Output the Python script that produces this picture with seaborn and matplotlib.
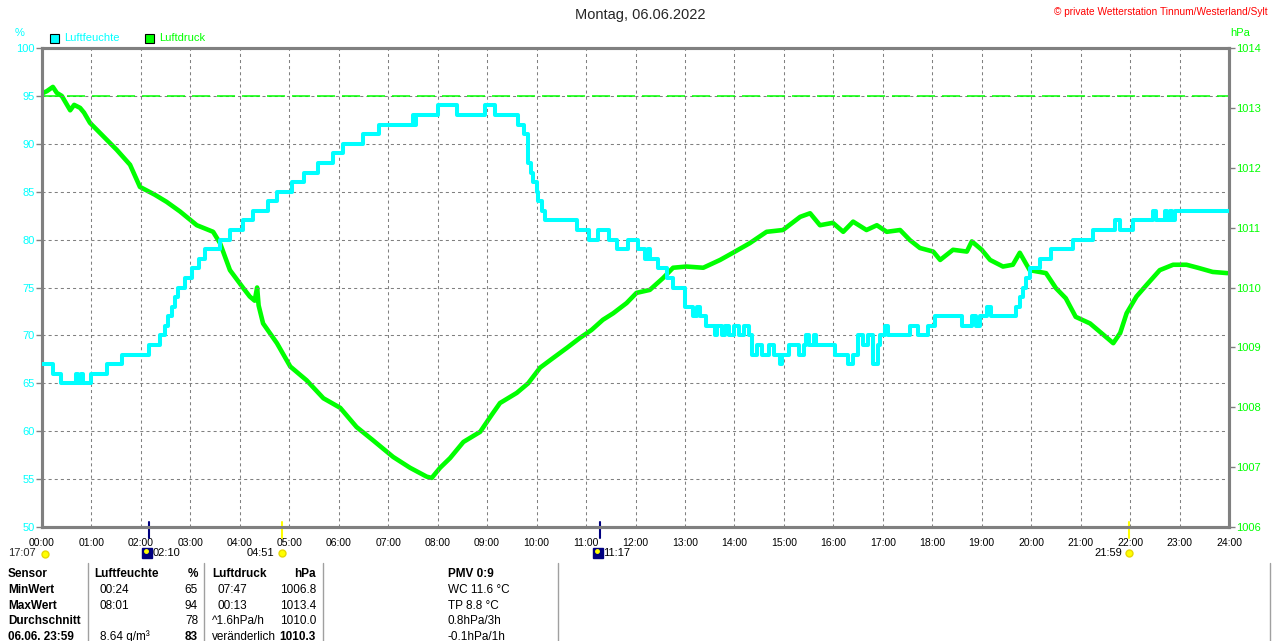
import numpy as np
import pandas as pd
import matplotlib
matplotlib.use("Agg")
import matplotlib.pyplot as plt
import seaborn as sns
from matplotlib.patches import Rectangle
from matplotlib.lines import Line2D

# humidity (%), step changes: hour of day -> value
hum_time = [0.0, 0.22, 0.38, 0.68, 0.72, 0.78, 0.82, 1.0, 1.31, 1.62, 2.17, 2.39, 2.49, 2.55,
            2.62, 2.69, 2.75, 2.89, 3.03, 3.17, 3.30, 3.60, 3.81, 4.07, 4.27, 4.57, 4.75, 5.05,
            5.30, 5.58, 5.88, 6.09, 6.50, 6.81, 7.50, 7.53, 7.57, 8.00, 8.40, 8.96, 9.16, 9.63,
            9.75, 9.83, 9.88, 9.93, 10.0, 10.03, 10.1, 10.17, 10.81, 11.05, 11.25, 11.47, 11.62,
            11.85, 12.05, 12.2, 12.25, 12.3, 12.46, 12.63, 12.76, 13.0, 13.17, 13.25, 13.3, 13.43,
            13.6, 13.65, 13.75, 13.8, 13.9, 14.0, 14.1, 14.2, 14.3, 14.35, 14.45, 14.55, 14.7,
            14.8, 14.92, 14.97, 15.1, 15.3, 15.4, 15.45, 15.5, 15.6, 15.65, 16.03, 16.3, 16.4,
            16.5, 16.6, 16.7, 16.8, 16.9, 16.95, 17.05, 17.1, 17.55, 17.72, 17.92, 18.05, 18.6,
            18.8, 18.88, 18.97, 19.1, 19.18, 19.7, 19.77, 19.83, 19.9, 19.97, 20.18, 20.41, 20.85,
            21.25, 21.7, 21.8, 22.06, 22.47, 22.52, 22.7, 22.75, 22.8, 22.85, 22.9, 24.0]
hum_value = [67, 66, 65, 66, 65, 66, 65, 66, 67, 68, 69, 70, 71, 72,
             73, 74, 75, 76, 77, 78, 79, 80, 81, 82, 83, 84, 85, 86,
             87, 88, 89, 90, 91, 92, 93, 92, 93, 94, 93, 94, 93, 92,
             91, 88, 87, 86, 85, 84, 83, 82, 81, 80, 81, 80, 79,
             80, 79, 78, 79, 78, 77, 76, 75, 73, 72, 73, 72, 71,
             70, 71, 70, 71, 70, 71, 70, 71, 70, 68, 69, 68, 69,
             68, 67, 68, 69, 68, 69, 70, 69, 70, 69, 68, 67, 68,
             70, 69, 70, 67, 69, 70, 71, 70, 71, 70, 71, 72, 71,
             72, 71, 72, 73, 72, 73, 74, 75, 76, 77, 78, 79, 80,
             81, 82, 81, 82, 83, 82, 83, 82, 83, 82, 83, 83]

# air pressure (hPa)
press_time = [0.00, 0.10, 0.22, 0.30, 0.40, 0.57, 0.65, 0.77, 0.85, 0.97, 1.21, 1.51, 1.78,
              1.98, 2.28, 2.52, 2.79, 3.13, 3.46, 3.60, 3.80, 4.07, 4.20, 4.30, 4.35, 4.38,
              4.47, 4.75, 5.02, 5.35, 5.69, 6.03, 6.36, 6.69, 7.10, 7.44, 7.78, 7.88, 8.05,
              8.25, 8.52, 8.86, 9.09, 9.26, 9.60, 9.83, 10.07, 10.33, 10.61, 10.88, 11.11,
              11.34, 11.55, 11.82, 12.02, 12.29, 12.56, 12.76, 13.03, 13.37, 13.71, 13.97,
              14.31, 14.65, 14.98, 15.33, 15.53, 15.73, 15.99, 16.20, 16.40, 16.67, 16.88,
              17.08, 17.35, 17.55, 17.75, 18.02, 18.16, 18.42, 18.70, 18.80, 19.00, 19.17,
              19.43, 19.63, 19.77, 19.97, 20.30, 20.50, 20.70, 20.90, 21.19, 21.39, 21.66,
              21.80, 21.93, 22.13, 22.33, 22.60, 22.87, 23.14, 23.37, 23.67, 23.97]
press_value = [1013.24, 1013.28, 1013.35, 1013.25, 1013.20, 1012.96, 1013.05, 1013.00, 1012.92,
               1012.75, 1012.55, 1012.30, 1012.05, 1011.68, 1011.55, 1011.43, 1011.27, 1011.04,
               1010.93, 1010.74, 1010.29, 1009.99, 1009.85, 1009.78, 1010.00, 1009.70, 1009.40,
               1009.07, 1008.68, 1008.45, 1008.15, 1007.99, 1007.67, 1007.45, 1007.17, 1006.99,
               1006.84, 1006.82, 1006.99, 1007.15, 1007.42, 1007.59, 1007.87, 1008.07, 1008.24,
               1008.40, 1008.66, 1008.82, 1008.99, 1009.16, 1009.29, 1009.46, 1009.57, 1009.74,
               1009.91, 1009.96, 1010.16, 1010.33, 1010.35, 1010.33, 1010.46, 1010.58, 1010.74,
               1010.93, 1010.96, 1011.18, 1011.24, 1011.04, 1011.08, 1010.93, 1011.10, 1010.96,
               1011.04, 1010.93, 1010.96, 1010.79, 1010.66, 1010.60, 1010.46, 1010.63, 1010.60,
               1010.77, 1010.63, 1010.46, 1010.35, 1010.38, 1010.58, 1010.29, 1010.24, 1009.99,
               1009.82, 1009.51, 1009.40, 1009.26, 1009.07, 1009.24, 1009.57, 1009.85, 1010.04,
               1010.29, 1010.38, 1010.38, 1010.33, 1010.26, 1010.24]

hour_labels = ["%02d:00" % h for h in range(25)]
hum_ticks = [50, 55, 60, 65, 70, 75, 80, 85, 90, 95, 100]
press_ticks = [1006, 1007, 1008, 1009, 1010, 1011, 1012, 1013, 1014]
standard_press = 1013.2

moon_times = ["02:10", "11:17"]
sun_times = ["04:51", "21:59"]

table_rows = [
    ["Sensor", "Luftfeuchte", "%", "Luftdruck", "hPa", "PMV 0:9"],
    ["MinWert", "00:24", "65", "07:47", "1006.8", "WC 11.6 °C"],
    ["MaxWert", "08:01", "94", "00:13", "1013.4", "TP 8.8 °C"],
    ["Durchschnitt", "", "78", "^1.6hPa/h", "1010.0", "0.8hPa/3h"],
    ["06.06. 23:59", "8.64 g/m³", "83", "veränderlich", "1010.3", "-0.1hPa/1h"],
]

CYAN = "#00ffff"
GREEN = "#00ff00"
GRAY = "#808080"

sns.set_theme(style="white")
plt.rcParams["font.family"] = ["Liberation Sans", "DejaVu Sans"]
plt.rcParams["lines.scale_dashes"] = False

W, H = 1280, 641
fig = plt.figure(figsize=(12.8, 6.41), dpi=100)
fig.patch.set_facecolor("white")
ax = fig.add_axes([42 / W, 1 - 527 / H, (1229 - 42) / W, (527 - 48) / H])
ax2 = ax.twinx()
ax.set_zorder(ax2.get_zorder() + 1)
ax.patch.set_visible(False)

def to_hour(s):
    hh, mm = s.split(":")
    return int(hh) + int(mm) / 60

hum = pd.DataFrame({"t": hum_time, "v": hum_value})
press = pd.DataFrame({"t": press_time, "v": press_value})

sns.lineplot(data=press, x="t", y="v", ax=ax2, color=GREEN, lw=3.3, zorder=3)
sns.lineplot(data=hum, x="t", y="v", ax=ax, color=CYAN, lw=2.9, drawstyle="steps-post", zorder=4)

ax.set_xlim(0, 24)
ax.set_ylim(50, 100)
ax2.set_ylim(1006, 1014)
# standard pressure reference line, drawn in pressure units above the grid
ax.plot([0, 24], [standard_press, standard_press], transform=ax2.transData,
        color=GREEN, lw=1.1, linestyle=(0, (13, 5)), zorder=2)
ax.set_xticks(range(25))
ax.set_xticklabels(hour_labels)
ax.set_yticks(hum_ticks)
ax.set_yticklabels([str(v) for v in hum_ticks])
ax2.set_yticks(press_ticks)
ax2.set_yticklabels([str(v) for v in press_ticks])
ax.set_xlabel("")
ax.set_ylabel("")
ax2.set_ylabel("")

ax.grid(True, color=GRAY, linestyle=(0, (2.2, 2.2)), linewidth=0.75)
ax2.grid(False)

ax.tick_params(axis="x", colors=GRAY, labelcolor="black", labelsize=7.5, length=0, pad=8)
ax.tick_params(axis="y", colors=GRAY, labelcolor=CYAN, labelsize=8, length=4, width=1, pad=1)
ax2.tick_params(axis="y", colors=GRAY, labelcolor=GREEN, labelsize=8, length=4, width=1, pad=1)
ax.tick_params(axis="y", which="both", left=True)
for a in (ax, ax2):
    for sp in a.spines.values():
        sp.set_color(GRAY)
        sp.set_linewidth(2.2)

# sun / moon markers on the time axis
xt = ax.get_xaxis_transform()
for s in moon_times:
    t = to_hour(s)
    ax.plot([t, t], [0.01, -0.022], color="#000080", lw=1.5, transform=xt, clip_on=False)
    ax.plot([t - 0.04], [-0.054], marker="s", ms=7, color="#000080", transform=xt, clip_on=False)
    ax.plot([t - 0.06], [-0.05], marker="o", ms=2.5, color="yellow", transform=xt, clip_on=False)
    ax.text(t + 0.06, -0.054, s, transform=xt, fontsize=8, ha="left", va="center", color="black")
for s in sun_times:
    t = to_hour(s)
    ax.plot([t, t], [0.01, -0.022], color="#ffff00", lw=1.5, transform=xt, clip_on=False)
    ax.plot([t], [-0.054], marker="o", ms=5, color="#ffff00", mec="#e8d800", transform=xt, clip_on=False)
    ax.text(t - 0.15, -0.054, s, transform=xt, fontsize=8, ha="right", va="center", color="black")
fig.text(8 / W, 1 - 553 / H, "17:07", fontsize=8, ha="left", va="center")
fig.add_artist(Line2D([45 / W], [1 - 554 / H], marker="o", ms=5, color="#ffff00", mec="#e8d800"))

# titles and legend
fig.text(640 / W, 1 - 15 / H, "Montag, 06.06.2022", fontsize=10.5, ha="center", va="center")
fig.text(1268 / W, 1 - 12 / H, "© private Wetterstation Tinnum/Westerland/Sylt",
         fontsize=7.3, ha="right", va="center", color="red")
fig.text(20 / W, 1 - 33 / H, "%", fontsize=8, ha="center", va="center", color=CYAN)
fig.text(1240 / W, 1 - 33 / H, "hPa", fontsize=8, ha="center", va="center", color=GREEN)
for x0, name, col in [(50, "Luftfeuchte", CYAN), (145, "Luftdruck", GREEN)]:
    fig.add_artist(Rectangle((x0 / W, 1 - 43 / H), 9 / W, 9 / H, transform=fig.transFigure,
                             facecolor=col, edgecolor="black", lw=0.8))
    fig.text((x0 + 14) / W, 1 - 38 / H, name, fontsize=8, ha="left", va="center", color=col)

# summary table
for xs in [88, 204, 323, 558, 1270]:
    fig.add_artist(Line2D([xs / W, xs / W], [1 - 563 / H, 0], color="#a0a0a0", lw=1))
row_y = [574, 590, 606, 621, 637]
col_x = [(8, "left"), (94, "left"), (198, "right"), (212, "left"), (316, "right"), (448, "left")]
for r, row in enumerate(table_rows):
    for c, txt in enumerate(row):
        x0, ha = col_x[c]
        if r > 0 and c == 1:
            x0 = 100
        if r > 0 and c == 3 and txt[:1].isdigit():
            x0 = 218
        bold = r == 0 or c == 0 or (r == 4 and c in (2, 4))
        fig.text(x0 / W, 1 - row_y[r] / H, txt, fontsize=8.5, ha=ha, va="center",
                 fontweight="bold" if bold else "normal", color="black")

fig.savefig("out.png", dpi=100, facecolor="white")
